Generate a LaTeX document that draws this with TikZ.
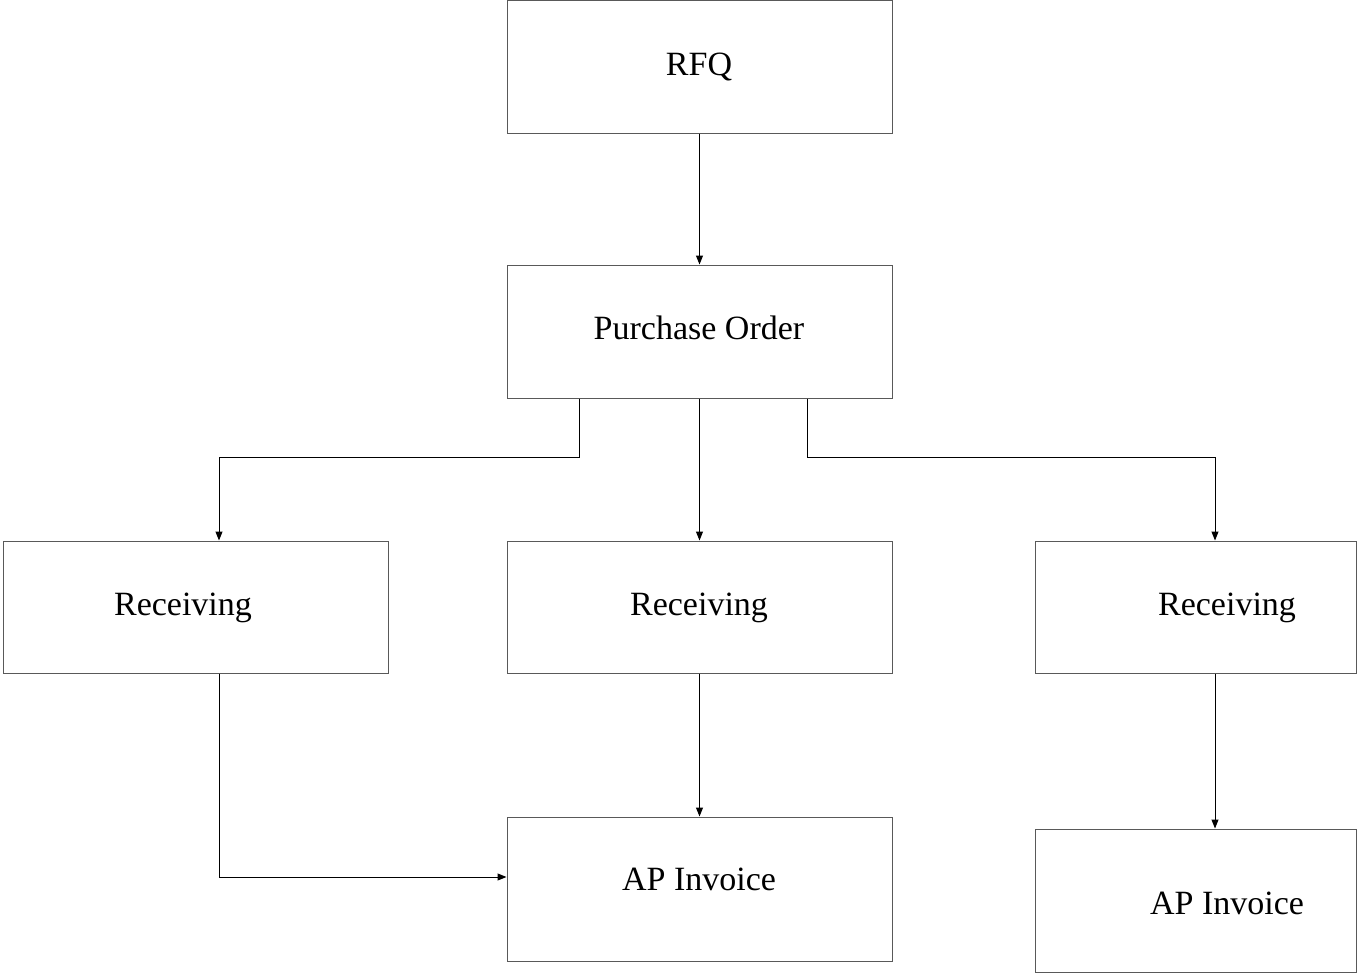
\documentclass[tikz,border=0pt]{standalone}
\usepackage{fontspec}
\setmainfont{Liberation Serif}
\usetikzlibrary{arrows.meta}
\begin{document}
\begin{tikzpicture}[x=1pt,y=-1pt,
  box/.style={draw=black!65, line width=1pt, inner sep=0pt},
  lbl/.style={anchor=base, inner sep=0pt, font=\fontsize{34}{40}\selectfont},
  conn/.style={draw=black, line width=1pt, -{Triangle[length=9pt,width=7pt]}}]
\useasboundingbox (0,0) rectangle (1358,974);
% boxes
\node[box, minimum width=385pt, minimum height=132pt] (rfq) at (699.5,67) {};
\node[box, minimum width=385pt, minimum height=133pt] (po) at (699.5,331.5) {};
\node[box, minimum width=385pt, minimum height=132pt] (recl) at (195.5,607) {};
\node[box, minimum width=385pt, minimum height=132pt] (recm) at (699.5,607) {};
\node[box, minimum width=321pt, minimum height=132pt] (recr) at (1195.5,607) {};
\node[box, minimum width=385pt, minimum height=144pt] (apm) at (699.5,889) {};
\node[box, minimum width=321pt, minimum height=143pt] (apr) at (1195.5,900.5) {};
% labels
\node[lbl] (trfq) at (699,75) {RFQ};
\node[lbl] (tpo) at (699,339) {Purchase Order};
\node[lbl] (trecl) at (183,615) {Receiving};
\node[lbl] (trecm) at (699,615) {Receiving};
\node[lbl] (trecr) at (1227,615) {Receiving};
\node[lbl] (tapm) at (699,890) {AP Invoice};
\node[lbl] (tapr) at (1227,914) {AP Invoice};
% connectors
\draw[conn] (rfq.south) -- (po.north);
\draw[conn] (po.south) -- (recm.north);
\draw[conn] (po.south -| 579,0) -- (579,457) -| (recl.north -| 219,0);
\draw[conn] (po.south -| 807,0) -- (807,457) -| (recr.north -| 1215,0);
\draw[conn] (recm.south) -- (apm.north);
\draw[conn] (recl.south -| 219,0) |- (apm.west |- 0,877);
\draw[conn] (recr.south -| 1215,0) -- (apr.north -| 1215,0);
\end{tikzpicture}
\end{document}
